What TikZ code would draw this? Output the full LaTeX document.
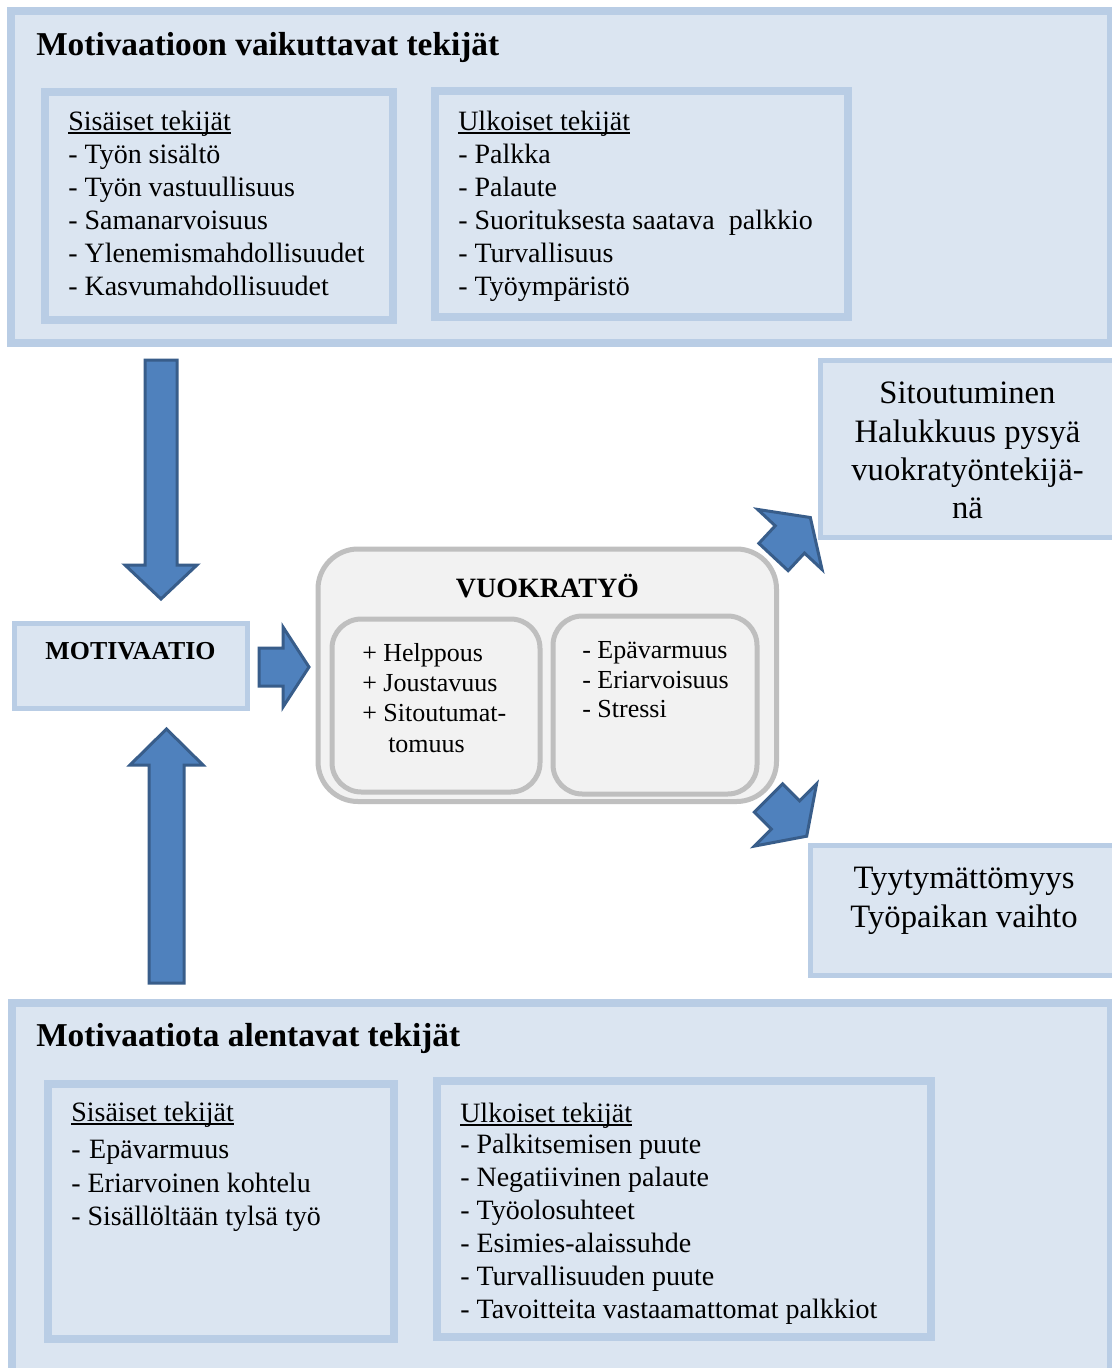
\documentclass[tikz,border=0pt]{standalone}
\usepackage{fontspec}
\setmainfont{Liberation Serif}
\definecolor{boxfill}{HTML}{DBE5F1}
\definecolor{boxline}{HTML}{B9CDE5}
\definecolor{arrfill}{HTML}{4F81BD}
\definecolor{arrline}{HTML}{385D8A}
\definecolor{grayfill}{HTML}{F2F2F2}
\definecolor{grayline}{HTML}{BFBFBF}
\begin{document}
\begin{tikzpicture}[x=0.75pt,y=-0.75pt,
  bigbox/.style={draw=boxline,fill=boxfill,line width=6pt},
  thinbox/.style={draw=boxline,fill=boxfill,line width=3.75pt},
  graybox/.style={draw=grayline,fill=grayfill,line width=3.75pt},
  arrowshape/.style={draw=arrline,fill=arrfill,line width=2.25pt,line join=miter},
  item/.style={anchor=base west,inner sep=0pt,font=\fontsize{21}{25}\selectfont},
  smallitem/.style={anchor=base west,inner sep=0pt,font=\fontsize{19.5}{23}\selectfont},
  heading/.style={anchor=base west,inner sep=0pt,font=\bfseries\fontsize{25}{30}\selectfont},
  bighead/.style={anchor=base,inner sep=0pt,font=\bfseries\fontsize{21}{25}\selectfont},
  outcome/.style={anchor=base,inner sep=0pt,font=\fontsize{24.5}{29}\selectfont},
  uline/.style={line width=1.1pt}
]
\useasboundingbox (0,0) rectangle (1112,1368);
\clip (0,0) rectangle (1112,1368);
\fill[white] (0,0) rectangle (1112,1368);

% ---------- boxes ----------
\draw[bigbox] (11,11) rectangle (1111,342.5);
\draw[bigbox] (45,92) rectangle (393,320);
\draw[bigbox] (435,91) rectangle (847.5,317);

\draw[bigbox] (12,1003) rectangle (1111,1372);
\draw[bigbox] (48,1084) rectangle (394,1339);
\draw[bigbox] (436.5,1081) rectangle (931,1337);

\draw[thinbox] (14.5,623.5) rectangle (247.5,708.5);
\draw[thinbox] (820,360) rectangle (1118,537);
\draw[thinbox] (810,845.5) rectangle (1118,975.5);

\draw[graybox,rounded corners=30pt] (318,549) rectangle (776.5,801.5);
\draw[graybox,rounded corners=22pt] (332,619) rectangle (540,792);
\draw[graybox,rounded corners=22pt] (553,616) rectangle (757,794);

% ---------- block arrows ----------
\draw[arrowshape] (145,360) -- (177,360) -- (177,565) -- (197,565) -- (161,599)
  -- (125,565) -- (145,565) -- cycle;
\draw[arrowshape] (149,983) -- (149,765) -- (130,765) -- (166.5,729) -- (203,765)
  -- (184,765) -- (184,983) -- cycle;
\draw[arrowshape] (259,648) -- (283,648) -- (283,627) -- (309,667) -- (283,707)
  -- (283,686) -- (259,686) -- cycle;
\begin{scope}[shift={(773.5,557)},rotate=47]
  \draw[arrowshape] (0,-20) -- (24,-20) -- (24,-44) -- (54,0) -- (24,44) -- (24,20) -- (0,20) -- cycle;
\end{scope}
\begin{scope}[shift={(768.5,798)},rotate=-45]
  \draw[arrowshape] (0,-20) -- (24,-20) -- (24,-44) -- (54,0) -- (24,44) -- (24,20) -- (0,20) -- cycle;
\end{scope}

% ---------- top texts ----------
\node[heading] (h1) at (36,55) {Motivaatioon vaikuttavat tekijät};

\node[item] (ts0) at (68,130) {Sisäiset tekijät};
\draw[uline] ([yshift=-2.4pt]ts0.base west) -- ([yshift=-2.4pt]ts0.base east);
\foreach \t [count=\i] in {Työn sisältö,Työn vastuullisuus,Samanarvoisuus,Ylenemismahdollisuudet,Kasvumahdollisuudet}
  \node[item] (ts\i) at (68,130+33*\i) {- \t};

\node[item] (tu0) at (458,130) {Ulkoiset tekijät};
\draw[uline] ([yshift=-2.4pt]tu0.base west) -- ([yshift=-2.4pt]tu0.base east);
\foreach \t [count=\i] in {Palkka,Palaute,Suorituksesta saatava~ palkkio,Turvallisuus,Työympäristö}
  \node[item] (tu\i) at (458,130+33*\i) {- \t};

% ---------- middle texts ----------
\node[bighead,font=\bfseries\fontsize{19.4}{23}\selectfont] (mot) at (130.5,659) {MOTIVAATIO};
\node[bighead] (vt) at (547.5,597) {VUOKRATYÖ};

\node[smallitem] (p1) at (362,661) {+ Helppous};
\node[smallitem] (p2) at (362,691) {+ Joustavuus};
\node[smallitem] (p3) at (362,721) {+ Sitoutumat-};
\node[smallitem] (p4) at (388,752) {tomuus};

\node[smallitem] (m1) at (582,658) {- Epävarmuus};
\node[smallitem] (m2) at (582,688) {- Eriarvoisuus};
\node[smallitem] (m3) at (582,717) {- Stressi};

\node[outcome] (o1) at (967.5,403) {Sitoutuminen};
\node[outcome] (o2) at (967.5,442) {Halukkuus pysyä};
\node[outcome] (o3) at (967.5,480) {vuokratyöntekijä-};
\node[outcome] (o4) at (967.5,518) {nä};

\node[outcome] (d1) at (964,888) {Tyytymättömyys};
\node[outcome] (d2) at (964,927) {Työpaikan vaihto};

% ---------- bottom texts ----------
\node[heading] (h2) at (36,1046) {Motivaatiota alentavat tekijät};

\node[item] (bs0) at (71,1121) {Sisäiset tekijät};
\draw[uline] ([yshift=-2.4pt]bs0.base west) -- ([yshift=-2.4pt]bs0.base east);
\node[item] (bs1) at (71,1158) {-\hspace{6.5pt}Epävarmuus};
\node[item] (bs2) at (71,1192) {- Eriarvoinen kohtelu};
\node[item] (bs3) at (71,1225) {- Sisällöltään tylsä työ};

\node[item] (bu0) at (460,1122) {Ulkoiset tekijät};
\draw[uline] ([yshift=-2.4pt]bu0.base west) -- ([yshift=-2.4pt]bu0.base east);
\foreach \t [count=\i] in {Palkitsemisen puute,Negatiivinen palaute,Työolosuhteet,Esimies-alaissuhde,Turvallisuuden puute,Tavoitteita vastaamattomat palkkiot}
  \node[item] (bu\i) at (460,1120+33*\i) {- \t};
\end{tikzpicture}
\end{document}
